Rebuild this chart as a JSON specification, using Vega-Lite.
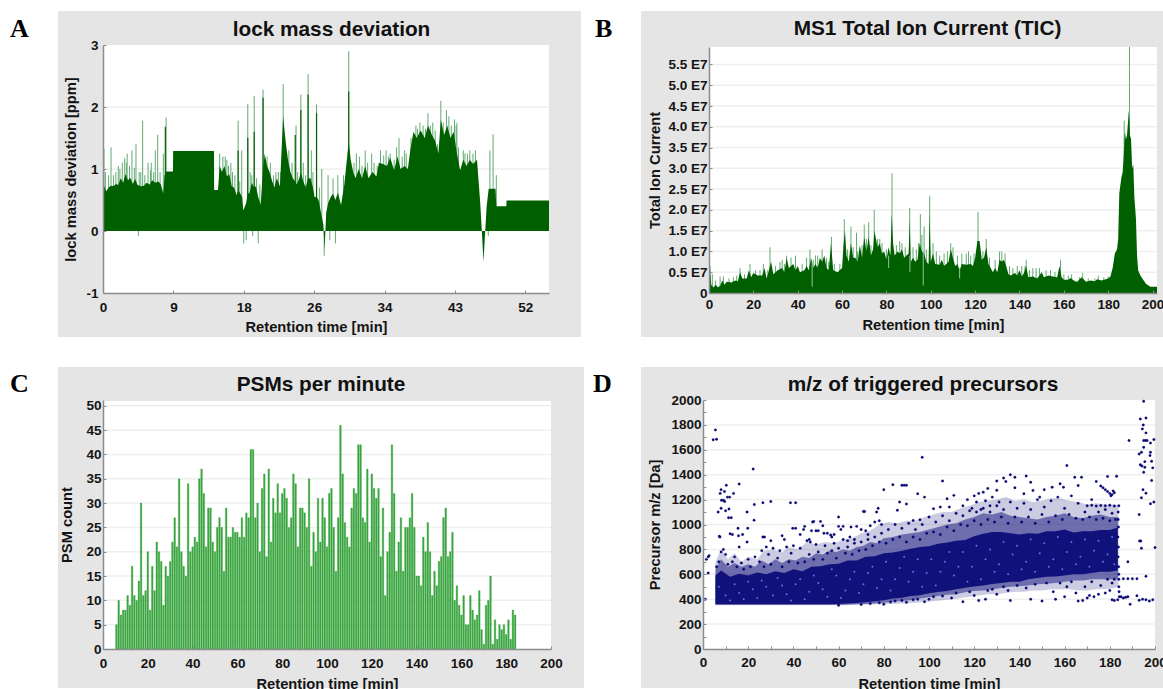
{"$schema":"https://vega.github.io/schema/vega-lite/v6.json","padding":0,"background":"white","bounds":"flush","spacing":355,
"config":{"view":{"stroke":null},"font":"Liberation Sans","axis":{"grid":false,"labelOverlap":false,"tickCount":60,"labelFlush":false,"labelFont":"Liberation Sans","labelFontWeight":"bold","labelFontSize":13.5,"labelColor":"#141414","titleFont":"Liberation Sans","titleFontWeight":"bold","titleFontSize":14.7,"titleColor":"#141414","domainColor":"#8c8c8c","domainWidth":1.5,"tickColor":"#8c8c8c","tickSize":-3,"labelPadding":5},"title":{"font":"Liberation Sans","fontWeight":"bold","fontSize":20.8,"color":"#111111","anchor":"middle"}},
"datasets":{
"one":[{"k":1}],
"lmGrid":[{"v":1},{"v":2}],
"ticGrid":[{"v":0.5},{"v":1},{"v":1.5},{"v":2},{"v":2.5},{"v":3},{"v":3.5},{"v":4},{"v":4.5},{"v":5},{"v":5.5}],
"psmGrid":[{"v":5},{"v":10},{"v":15},{"v":20},{"v":25},{"v":30},{"v":35},{"v":40},{"v":45},{"v":50}],
"mzGrid":[{"v":200},{"v":400},{"v":600},{"v":800},{"v":1000},{"v":1200},{"v":1400},{"v":1600},{"v":1800}],
"lmEnv":[{"t":0,"v":0.8},{"t":0.2,"v":0.7},{"t":0.4,"v":0.64},{"t":0.7,"v":0.7},{"t":1,"v":0.73},{"t":1.3,"v":0.72},{"t":1.6,"v":0.76},{"t":1.9,"v":0.74},{"t":2.2,"v":0.85},{"t":2.5,"v":0.78},{"t":2.8,"v":0.92},{"t":3.1,"v":0.82},{"t":3.4,"v":0.86},{"t":3.7,"v":0.76},{"t":4,"v":0.84},{"t":4.3,"v":0.74},{"t":4.7,"v":0.72},{"t":5.1,"v":0.73},{"t":5.4,"v":0.78},{"t":5.8,"v":0.75},{"t":6.1,"v":0.82},{"t":6.5,"v":0.78},{"t":6.9,"v":0.8},{"t":7.2,"v":0.75},{"t":7.5,"v":0.6},{"t":7.65,"v":0.9},{"t":7.85,"v":0.96},{"t":8.7,"v":0.96},{"t":8.72,"v":1.29},{"t":13.8,"v":1.29},{"t":13.82,"v":0.66},{"t":14.3,"v":0.66},{"t":14.5,"v":1.05},{"t":14.8,"v":0.95},{"t":15.1,"v":1.05},{"t":15.4,"v":0.88},{"t":15.7,"v":0.92},{"t":16,"v":0.72},{"t":16.3,"v":0.7},{"t":16.6,"v":0.58},{"t":16.8,"v":0.65},{"t":17,"v":0.62},{"t":17.3,"v":0.55},{"t":17.45,"v":0.33},{"t":17.8,"v":0.45},{"t":18,"v":0.62},{"t":18.2,"v":0.6},{"t":18.5,"v":0.78},{"t":18.8,"v":0.7},{"t":19,"v":0.72},{"t":19.3,"v":0.55},{"t":19.6,"v":0.42},{"t":19.9,"v":1.0},{"t":20.1,"v":1.25},{"t":20.4,"v":1.05},{"t":20.7,"v":0.95},{"t":21,"v":0.82},{"t":21.3,"v":0.7},{"t":21.6,"v":0.85},{"t":22,"v":0.72},{"t":22.2,"v":1.3},{"t":22.4,"v":1.85},{"t":22.7,"v":1.45},{"t":23,"v":1.15},{"t":23.3,"v":0.95},{"t":23.6,"v":0.85},{"t":23.9,"v":0.8},{"t":24.1,"v":0.75},{"t":24.4,"v":0.85},{"t":24.6,"v":0.95},{"t":24.9,"v":0.8},{"t":25.2,"v":0.7},{"t":25.5,"v":0.85},{"t":25.8,"v":0.85},{"t":26.1,"v":0.7},{"t":26.3,"v":0.55},{"t":26.55,"v":0.55},{"t":26.8,"v":0.5},{"t":27.1,"v":0.3},{"t":27.4,"v":0.1},{"t":27.55,"v":-0.3},{"t":27.75,"v":0.3},{"t":28,"v":0.45},{"t":28.3,"v":0.55},{"t":28.6,"v":0.6},{"t":28.9,"v":0.5},{"t":29.2,"v":0.62},{"t":29.6,"v":0.42},{"t":30,"v":0.75},{"t":30.2,"v":1},{"t":30.55,"v":1.45},{"t":30.8,"v":1.15},{"t":31.1,"v":0.95},{"t":31.4,"v":0.85},{"t":31.8,"v":1},{"t":32.2,"v":0.85},{"t":32.6,"v":1.05},{"t":33,"v":0.85},{"t":33.5,"v":0.95},{"t":34,"v":0.88},{"t":34.3,"v":1.1},{"t":34.8,"v":1.08},{"t":35.3,"v":1.05},{"t":35.7,"v":1.18},{"t":36.2,"v":0.98},{"t":36.6,"v":1.2},{"t":37,"v":1},{"t":37.5,"v":1.05},{"t":37.9,"v":1},{"t":38.2,"v":1.3},{"t":38.6,"v":1.6},{"t":39,"v":1.5},{"t":39.5,"v":1.62},{"t":40,"v":1.5},{"t":40.4,"v":1.7},{"t":40.9,"v":1.55},{"t":41.3,"v":1.45},{"t":41.7,"v":1.25},{"t":42,"v":1.8},{"t":42.4,"v":1.55},{"t":42.8,"v":1.7},{"t":43.2,"v":1.5},{"t":43.6,"v":1.6},{"t":44,"v":1.25},{"t":44.4,"v":0.98},{"t":44.8,"v":1.15},{"t":45.2,"v":1.05},{"t":45.6,"v":1.15},{"t":46,"v":1.08},{"t":46.5,"v":1.15},{"t":46.7,"v":0.8},{"t":46.9,"v":0.45},{"t":47.1,"v":0},{"t":47.3,"v":-0.5},{"t":47.5,"v":-0.05},{"t":47.7,"v":0.4},{"t":47.95,"v":0.68},{"t":48.8,"v":0.68},{"t":48.9,"v":0.4},{"t":50.15,"v":0.4},{"t":50.17,"v":0.49},{"t":55.45,"v":0.49}],
"lmDark":[{"t":7.75,"hi":1.68},{"t":16.8,"hi":1.3},{"t":18,"hi":1.5},{"t":18.8,"hi":1.6},{"t":19.9,"hi":2.15},{"t":23.9,"hi":1.55},{"t":24.6,"hi":1.95},{"t":25.5,"hi":2.2},{"t":26.55,"hi":1.9},{"t":30.55,"hi":2.25}],
"lmSpike":[{"t":0.12,"hi":1.33},{"t":1,"hi":1.35},{"t":1.9,"hi":1.05},{"t":2.4,"hi":1.1},{"t":2.7,"hi":1.17},{"t":3,"hi":1.25},{"t":3.6,"hi":1.3},{"t":4.1,"hi":1.4},{"t":4.5,"hi":0.95},{"t":4.93,"hi":1.78},{"t":5.6,"hi":1.1},{"t":6,"hi":1.1},{"t":6.5,"hi":1.3},{"t":6.8,"hi":1.55},{"t":7.5,"hi":1.25},{"t":7.85,"hi":1.83},{"t":14.5,"hi":1.25},{"t":14.9,"hi":1.2},{"t":15.4,"hi":1.15},{"t":15.9,"hi":1.1},{"t":16.8,"hi":1.78},{"t":17.25,"hi":1.3},{"t":18,"hi":2.05},{"t":18.8,"hi":2.18},{"t":19.9,"hi":2.28},{"t":20.4,"hi":1.2},{"t":22.4,"hi":2.37},{"t":24,"hi":1.7},{"t":24.6,"hi":2.2},{"t":25.5,"hi":2.53},{"t":26.55,"hi":2.04},{"t":27.2,"hi":1},{"t":27.98,"hi":0.9},{"t":28.6,"hi":0.85},{"t":29.2,"hi":0.9},{"t":30.55,"hi":2.9},{"t":31.5,"hi":1.25},{"t":32.6,"hi":1.3},{"t":33.4,"hi":1.25},{"t":34.5,"hi":1.3},{"t":35.2,"hi":1.3},{"t":35.7,"hi":1.25},{"t":36.8,"hi":1.5},{"t":37.7,"hi":1.25},{"t":39.4,"hi":1.75},{"t":40.4,"hi":1.9},{"t":41.3,"hi":1.62},{"t":42,"hi":2.1},{"t":42.7,"hi":1.95},{"t":43.7,"hi":1.8},{"t":44,"hi":1.75},{"t":44.8,"hi":1.3},{"t":45.6,"hi":1.3},{"t":46.3,"hi":1.3},{"t":48.1,"hi":1.3},{"t":48.5,"hi":1.56},{"t":48.9,"hi":0.9},{"t":4.4,"hi":-0.08},{"t":17.5,"hi":-0.2},{"t":17.8,"hi":-0.15},{"t":18.6,"hi":-0.08},{"t":19.3,"hi":-0.2},{"t":27.5,"hi":-0.4},{"t":28.2,"hi":-0.15},{"t":28.9,"hi":-0.2},{"t":47.9,"hi":-0.08},{"t":0.3,"hi":0.95},{"t":0.7,"hi":0.9},{"t":1.3,"hi":0.9},{"t":1.6,"hi":0.95},{"t":2.1,"hi":1},{"t":2.9,"hi":1.1},{"t":3.3,"hi":1.05},{"t":3.9,"hi":1.02},{"t":4.7,"hi":0.95},{"t":5.2,"hi":0.9},{"t":5.9,"hi":0.98},{"t":6.3,"hi":0.95},{"t":7.1,"hi":0.95},{"t":15.2,"hi":1.2},{"t":15.6,"hi":1.05},{"t":16.1,"hi":0.95},{"t":16.4,"hi":0.9},{"t":17,"hi":0.8},{"t":18.3,"hi":0.95},{"t":18.5,"hi":0.9},{"t":19.1,"hi":0.85},{"t":19.5,"hi":0.75},{"t":20.8,"hi":1.1},{"t":21.2,"hi":0.9},{"t":21.5,"hi":0.95},{"t":21.8,"hi":0.95},{"t":22.1,"hi":0.95},{"t":23.1,"hi":1.3},{"t":23.5,"hi":1.1},{"t":24.2,"hi":0.95},{"t":24.9,"hi":1.1},{"t":25.2,"hi":0.9},{"t":25.9,"hi":1.3},{"t":26.1,"hi":0.95},{"t":26.9,"hi":0.7},{"t":29.9,"hi":0.9},{"t":31.2,"hi":1.1},{"t":31.9,"hi":1.2},{"t":32.2,"hi":1.05},{"t":32.9,"hi":1.1},{"t":33.7,"hi":1.1},{"t":34.1,"hi":1.05},{"t":34.9,"hi":1.22},{"t":35.5,"hi":1.2},{"t":36.2,"hi":1.15},{"t":36.5,"hi":1.35},{"t":37.2,"hi":1.2},{"t":37.5,"hi":1.3},{"t":38.3,"hi":1.5},{"t":38.9,"hi":1.7},{"t":39.1,"hi":1.65},{"t":39.8,"hi":1.7},{"t":40.1,"hi":1.65},{"t":40.7,"hi":1.7},{"t":41,"hi":1.75},{"t":41.6,"hi":1.4},{"t":42.3,"hi":1.75},{"t":43,"hi":1.85},{"t":43.3,"hi":1.7},{"t":43.9,"hi":1.7},{"t":44.2,"hi":1.35},{"t":45,"hi":1.25},{"t":45.3,"hi":1.25},{"t":46,"hi":1.25}],
"ticEnv":[{"t":0,"v":0.3},{"t":0.5,"v":0.55},{"t":1,"v":0.2},{"t":2,"v":0.13},{"t":3,"v":0.2},{"t":4,"v":0.14},{"t":5,"v":0.17},{"t":6,"v":0.3},{"t":7,"v":0.2},{"t":8,"v":0.27},{"t":10,"v":0.25},{"t":12,"v":0.3},{"t":13,"v":0.28},{"t":14,"v":0.5},{"t":15,"v":0.35},{"t":17,"v":0.35},{"t":18,"v":0.55},{"t":19,"v":0.38},{"t":20,"v":0.48},{"t":22,"v":0.42},{"t":24,"v":0.42},{"t":25,"v":0.6},{"t":26,"v":0.35},{"t":27,"v":0.55},{"t":28,"v":0.75},{"t":29,"v":0.45},{"t":31,"v":0.55},{"t":33,"v":0.6},{"t":34,"v":0.5},{"t":35,"v":0.85},{"t":36,"v":0.6},{"t":38,"v":0.7},{"t":39,"v":0.55},{"t":40,"v":0.65},{"t":41,"v":0.5},{"t":43,"v":0.55},{"t":44,"v":0.65},{"t":45,"v":0.55},{"t":46,"v":0.85},{"t":47,"v":0.6},{"t":48,"v":0.7},{"t":49,"v":0.6},{"t":50,"v":0.85},{"t":51,"v":0.75},{"t":52,"v":0.9},{"t":53,"v":0.6},{"t":54,"v":0.55},{"t":55,"v":1.2},{"t":56,"v":0.55},{"t":58,"v":0.5},{"t":60,"v":0.6},{"t":60.7,"v":1.2},{"t":61.3,"v":1.5},{"t":62,"v":0.9},{"t":63,"v":0.75},{"t":64,"v":1.2},{"t":65,"v":0.85},{"t":66,"v":0.85},{"t":67,"v":0.75},{"t":68,"v":1.15},{"t":69,"v":0.85},{"t":70,"v":1.35},{"t":71,"v":1},{"t":72,"v":1.35},{"t":73,"v":0.9},{"t":74,"v":1.05},{"t":74.6,"v":1.5},{"t":76,"v":1.1},{"t":77,"v":1.2},{"t":78,"v":0.95},{"t":79,"v":1},{"t":80,"v":0.8},{"t":81,"v":1.1},{"t":81.8,"v":0.9},{"t":82.4,"v":1.9},{"t":83,"v":1.2},{"t":83.7,"v":0.9},{"t":85,"v":1},{"t":86,"v":0.95},{"t":87,"v":1.05},{"t":88,"v":0.85},{"t":89,"v":0.9},{"t":90,"v":0.95},{"t":90.5,"v":1.75},{"t":91,"v":0.75},{"t":92,"v":0.85},{"t":93,"v":0.75},{"t":94,"v":0.8},{"t":95,"v":1.2},{"t":96,"v":1},{"t":97,"v":0.95},{"t":98,"v":0.75},{"t":99,"v":0.7},{"t":99.5,"v":1.9},{"t":100,"v":0.75},{"t":101,"v":0.95},{"t":102,"v":0.7},{"t":104,"v":0.68},{"t":105,"v":0.8},{"t":106,"v":0.65},{"t":108,"v":0.75},{"t":109,"v":1.05},{"t":110,"v":0.85},{"t":111,"v":0.65},{"t":112,"v":0.7},{"t":113,"v":0.55},{"t":114,"v":0.7},{"t":116,"v":0.68},{"t":118,"v":0.7},{"t":119,"v":0.65},{"t":120,"v":0.85},{"t":121,"v":1.25},{"t":122,"v":1.25},{"t":123,"v":0.8},{"t":124,"v":0.85},{"t":125,"v":1.1},{"t":126,"v":0.7},{"t":127,"v":0.6},{"t":128,"v":0.5},{"t":129,"v":0.6},{"t":130,"v":0.5},{"t":131,"v":0.8},{"t":132,"v":0.75},{"t":133,"v":0.8},{"t":134,"v":0.65},{"t":135,"v":0.45},{"t":136,"v":0.42},{"t":138,"v":0.48},{"t":139,"v":0.42},{"t":140,"v":0.55},{"t":141,"v":0.4},{"t":142,"v":0.48},{"t":143,"v":0.65},{"t":144,"v":0.38},{"t":146,"v":0.4},{"t":148,"v":0.35},{"t":150,"v":0.5},{"t":151,"v":0.38},{"t":153,"v":0.42},{"t":155,"v":0.4},{"t":157,"v":0.38},{"t":158,"v":0.65},{"t":159,"v":0.38},{"t":160,"v":0.32},{"t":162,"v":0.32},{"t":163,"v":0.36},{"t":165,"v":0.28},{"t":166,"v":0.27},{"t":168,"v":0.38},{"t":170,"v":0.27},{"t":172,"v":0.3},{"t":174,"v":0.28},{"t":175,"v":0.33},{"t":177,"v":0.3},{"t":180,"v":0.35},{"t":181,"v":0.4},{"t":182,"v":0.6},{"t":183,"v":0.95},{"t":184,"v":1.05},{"t":184.5,"v":1.3},{"t":185,"v":2.4},{"t":186,"v":2.8},{"t":186.5,"v":2.9},{"t":187,"v":3.3},{"t":187.5,"v":3.9},{"t":188,"v":3.7},{"t":188.5,"v":3.8},{"t":189.3,"v":4.4},{"t":189.8,"v":3.8},{"t":190.3,"v":3.7},{"t":190.8,"v":3.0},{"t":191.3,"v":3.1},{"t":191.8,"v":2.3},{"t":192.5,"v":1.8},{"t":193,"v":0.9},{"t":193.5,"v":0.55},{"t":194.5,"v":0.42},{"t":196,"v":0.3},{"t":197,"v":0.22},{"t":199,"v":0.15},{"t":202,"v":0.15}],
"ticSpike":[{"t":0.5,"lo":0,"hi":0.65},{"t":1.5,"lo":0,"hi":0.45},{"t":5,"lo":0,"hi":0.4},{"t":14,"lo":0,"hi":0.6},{"t":18.5,"lo":0,"hi":0.7},{"t":24.5,"lo":0,"hi":0.7},{"t":27.5,"lo":0,"hi":1.1},{"t":30,"lo":0,"hi":0.65},{"t":33,"lo":0,"hi":0.8},{"t":35,"lo":0,"hi":0.9},{"t":39,"lo":0,"hi":0.9},{"t":45.5,"lo":0,"hi":1.05},{"t":48,"lo":0,"hi":0.9},{"t":51,"lo":0,"hi":1.05},{"t":55.2,"lo":0,"hi":1.35},{"t":61,"lo":0,"hi":1.78},{"t":64,"lo":0,"hi":1.6},{"t":66.5,"lo":0,"hi":1.45},{"t":70,"lo":0,"hi":1.65},{"t":72,"lo":0,"hi":1.7},{"t":74.5,"lo":0,"hi":2},{"t":77,"lo":0,"hi":1.3},{"t":82.5,"lo":0,"hi":2.88},{"t":86,"lo":0,"hi":1.25},{"t":90.5,"lo":0,"hi":2.05},{"t":95.3,"lo":0,"hi":1.9},{"t":97,"lo":0,"hi":1.6},{"t":99.5,"lo":0,"hi":2.33},{"t":109,"lo":0,"hi":1.2},{"t":118,"lo":0,"hi":0.9},{"t":121.3,"lo":0,"hi":1.95},{"t":125,"lo":0,"hi":1.3},{"t":131,"lo":0,"hi":1.0},{"t":143,"lo":0,"hi":0.8},{"t":158.5,"lo":0,"hi":0.8},{"t":187.2,"lo":0,"hi":4.15},{"t":189.6,"lo":0,"hi":5.92},{"t":3,"lo":0,"hi":0.3},{"t":6.5,"lo":0,"hi":0.4},{"t":9,"lo":0,"hi":0.35},{"t":11,"lo":0,"hi":0.38},{"t":12.5,"lo":0,"hi":0.42},{"t":16,"lo":0,"hi":0.45},{"t":21,"lo":0,"hi":0.55},{"t":23,"lo":0,"hi":0.55},{"t":26.5,"lo":0,"hi":0.55},{"t":32,"lo":0,"hi":0.75},{"t":34,"lo":0,"hi":0.7},{"t":37,"lo":0,"hi":0.85},{"t":42,"lo":0,"hi":0.7},{"t":44,"lo":0,"hi":0.85},{"t":47,"lo":0,"hi":0.8},{"t":49,"lo":0,"hi":0.9},{"t":53,"lo":0,"hi":0.85},{"t":54,"lo":0,"hi":0.75},{"t":56.5,"lo":0,"hi":0.7},{"t":59,"lo":0,"hi":0.7},{"t":62.5,"lo":0,"hi":1.05},{"t":65,"lo":0,"hi":1.1},{"t":67,"lo":0,"hi":1.0},{"t":69,"lo":0,"hi":1.15},{"t":71,"lo":0,"hi":1.3},{"t":73,"lo":0,"hi":1.15},{"t":76,"lo":0,"hi":1.3},{"t":78,"lo":0,"hi":1.2},{"t":80,"lo":0,"hi":1.05},{"t":84.5,"lo":0,"hi":1.15},{"t":87,"lo":0,"hi":1.2},{"t":88.5,"lo":0,"hi":1.1},{"t":92,"lo":0,"hi":1.1},{"t":93.5,"lo":0,"hi":1.05},{"t":94.5,"lo":0,"hi":1.2},{"t":96,"lo":0,"hi":1.4},{"t":98,"lo":0,"hi":1.05},{"t":101,"lo":0,"hi":1.2},{"t":102.5,"lo":0,"hi":1},{"t":104,"lo":0,"hi":0.9},{"t":106,"lo":0,"hi":0.95},{"t":107.5,"lo":0,"hi":1.0},{"t":110,"lo":0,"hi":1.1},{"t":112,"lo":0,"hi":0.9},{"t":114,"lo":0,"hi":0.95},{"t":116,"lo":0,"hi":0.95},{"t":117,"lo":0,"hi":1},{"t":119.5,"lo":0,"hi":0.95},{"t":123.5,"lo":0,"hi":1.0},{"t":126.5,"lo":0,"hi":0.85},{"t":129,"lo":0,"hi":0.8},{"t":132,"lo":0,"hi":1},{"t":133.5,"lo":0,"hi":0.95},{"t":135.5,"lo":0,"hi":0.65},{"t":137,"lo":0,"hi":0.6},{"t":139,"lo":0,"hi":0.65},{"t":141,"lo":0,"hi":0.65},{"t":142.5,"lo":0,"hi":0.65},{"t":144.5,"lo":0,"hi":0.55},{"t":146,"lo":0,"hi":0.6},{"t":147.5,"lo":0,"hi":0.6},{"t":149,"lo":0,"hi":0.6},{"t":152,"lo":0,"hi":0.55},{"t":154,"lo":0,"hi":0.55},{"t":156,"lo":0,"hi":0.5},{"t":160,"lo":0,"hi":0.45},{"t":162,"lo":0,"hi":0.42},{"t":163.5,"lo":0,"hi":0.45},{"t":167,"lo":0,"hi":0.38},{"t":168.5,"lo":0,"hi":0.48},{"t":171,"lo":0,"hi":0.35},{"t":174,"lo":0,"hi":0.35},{"t":175.5,"lo":0,"hi":0.42},{"t":178,"lo":0,"hi":0.38},{"t":180,"lo":0,"hi":0.4}],
"ticDip":[{"t":46.5,"lo":0.15,"hi":0.75},{"t":90.6,"lo":0.5,"hi":0.9},{"t":96.6,"lo":0.18,"hi":1},{"t":113,"lo":0.35,"hi":0.6},{"t":81,"lo":0.6,"hi":0.9}],
"psm":[{"t":6,"c":5},{"t":7,"c":10},{"t":8,"c":7},{"t":9,"c":8},{"t":10,"c":8},{"t":11,"c":11},{"t":12,"c":9},{"t":13,"c":17},{"t":14,"c":11},{"t":15,"c":10},{"t":16,"c":14},{"t":17,"c":30},{"t":18,"c":11},{"t":19,"c":12},{"t":20,"c":20},{"t":21,"c":8},{"t":22,"c":17},{"t":23,"c":12},{"t":24,"c":22},{"t":25,"c":20},{"t":26,"c":18},{"t":27,"c":9},{"t":28,"c":17},{"t":29,"c":15},{"t":30,"c":18},{"t":31,"c":22},{"t":32,"c":27},{"t":33,"c":21},{"t":34,"c":35},{"t":35,"c":20},{"t":36,"c":17},{"t":37,"c":15},{"t":38,"c":34},{"t":39,"c":20},{"t":40,"c":21},{"t":41,"c":23},{"t":42,"c":22},{"t":43,"c":35},{"t":44,"c":37},{"t":45,"c":32},{"t":46,"c":21},{"t":47,"c":29},{"t":48,"c":29},{"t":49,"c":22},{"t":50,"c":20},{"t":51,"c":25},{"t":52,"c":27},{"t":53,"c":25},{"t":54,"c":16},{"t":55,"c":29},{"t":56,"c":23},{"t":57,"c":23},{"t":58,"c":25},{"t":59,"c":24},{"t":60,"c":24},{"t":61,"c":23},{"t":62,"c":27},{"t":63,"c":23},{"t":64,"c":28},{"t":65,"c":27},{"t":66,"c":41},{"t":67,"c":41},{"t":68,"c":27},{"t":69,"c":30},{"t":70,"c":20},{"t":71,"c":33},{"t":72,"c":36},{"t":73,"c":19},{"t":74,"c":37},{"t":75,"c":22},{"t":76,"c":31},{"t":77,"c":28},{"t":78,"c":34},{"t":79,"c":28},{"t":80,"c":32},{"t":81,"c":33},{"t":82,"c":31},{"t":83,"c":25},{"t":84,"c":27},{"t":85,"c":36},{"t":86,"c":34},{"t":87,"c":21},{"t":88,"c":29},{"t":89,"c":29},{"t":90,"c":28},{"t":91,"c":25},{"t":92,"c":35},{"t":93,"c":17},{"t":94,"c":24},{"t":95,"c":20},{"t":96,"c":31},{"t":97,"c":22},{"t":98,"c":31},{"t":99,"c":27},{"t":100,"c":21},{"t":101,"c":32},{"t":102,"c":33},{"t":103,"c":25},{"t":104,"c":16},{"t":105,"c":27},{"t":106,"c":46},{"t":107,"c":36},{"t":108,"c":26},{"t":109,"c":23},{"t":110,"c":21},{"t":111,"c":29},{"t":112,"c":33},{"t":113,"c":32},{"t":114,"c":42},{"t":115,"c":42},{"t":116,"c":27},{"t":117,"c":26},{"t":118,"c":37},{"t":119,"c":22},{"t":120,"c":36},{"t":121,"c":33},{"t":122,"c":31},{"t":123,"c":33},{"t":124,"c":19},{"t":125,"c":29},{"t":126,"c":11},{"t":127,"c":20},{"t":128,"c":24},{"t":129,"c":42},{"t":130,"c":32},{"t":131,"c":16},{"t":132,"c":22},{"t":133,"c":27},{"t":134,"c":16},{"t":135,"c":25},{"t":136,"c":25},{"t":137,"c":27},{"t":138,"c":32},{"t":139,"c":25},{"t":140,"c":15},{"t":141,"c":15},{"t":142,"c":13},{"t":143,"c":23},{"t":144,"c":20},{"t":145,"c":26},{"t":146,"c":20},{"t":147,"c":11},{"t":148,"c":16},{"t":149,"c":13},{"t":150,"c":18},{"t":151,"c":19},{"t":152,"c":27},{"t":153,"c":29},{"t":154,"c":19},{"t":155,"c":20},{"t":156,"c":24},{"t":157,"c":10},{"t":158,"c":13},{"t":159,"c":9},{"t":160,"c":7},{"t":161,"c":11},{"t":162,"c":5},{"t":163,"c":5},{"t":164,"c":11},{"t":165,"c":8},{"t":166,"c":6},{"t":167,"c":7},{"t":168,"c":12},{"t":169,"c":4},{"t":170,"c":1},{"t":171,"c":9},{"t":172,"c":10},{"t":173,"c":15},{"t":174,"c":1},{"t":175,"c":6},{"t":176,"c":2},{"t":177,"c":5},{"t":178,"c":4},{"t":179,"c":5},{"t":180,"c":3},{"t":181,"c":6},{"t":182,"c":2},{"t":183,"c":8},{"t":184,"c":7}],
"mzOuter":[{"t":5.5,"lo":352,"hi":700},{"t":8,"lo":352,"hi":800},{"t":11,"lo":352,"hi":720},{"t":14,"lo":352,"hi":770},{"t":17,"lo":352,"hi":700},{"t":20,"lo":352,"hi":740},{"t":24,"lo":352,"hi":720},{"t":27,"lo":352,"hi":790},{"t":31,"lo":352,"hi":800},{"t":35,"lo":352,"hi":780},{"t":38,"lo":352,"hi":820},{"t":42,"lo":352,"hi":800},{"t":46,"lo":352,"hi":860},{"t":50,"lo":352,"hi":840},{"t":54,"lo":352,"hi":860},{"t":58,"lo":352,"hi":850},{"t":62,"lo":352,"hi":880},{"t":66,"lo":354,"hi":890},{"t":70,"lo":356,"hi":930},{"t":74,"lo":358,"hi":950},{"t":78,"lo":360,"hi":1000},{"t":82,"lo":362,"hi":1020},{"t":86,"lo":364,"hi":1010},{"t":90,"lo":368,"hi":1030},{"t":94,"lo":372,"hi":1030},{"t":98,"lo":378,"hi":1060},{"t":102,"lo":384,"hi":1080},{"t":106,"lo":392,"hi":1100},{"t":110,"lo":400,"hi":1100},{"t":114,"lo":410,"hi":1130},{"t":118,"lo":420,"hi":1150},{"t":122,"lo":430,"hi":1180},{"t":126,"lo":440,"hi":1190},{"t":130,"lo":440,"hi":1200},{"t":134,"lo":450,"hi":1220},{"t":138,"lo":460,"hi":1190},{"t":142,"lo":460,"hi":1200},{"t":146,"lo":470,"hi":1180},{"t":150,"lo":470,"hi":1190},{"t":154,"lo":480,"hi":1210},{"t":158,"lo":480,"hi":1210},{"t":162,"lo":480,"hi":1190},{"t":166,"lo":470,"hi":1180},{"t":170,"lo":470,"hi":1160},{"t":174,"lo":480,"hi":1170},{"t":178,"lo":480,"hi":1160},{"t":182,"lo":490,"hi":1160},{"t":183.8,"lo":500,"hi":1150}],
"mzFringe":[{"t":5.5,"lo":355,"hi":640},{"t":8,"lo":355,"hi":720},{"t":11,"lo":355,"hi":660},{"t":14,"lo":355,"hi":690},{"t":17,"lo":355,"hi":660},{"t":20,"lo":355,"hi":680},{"t":23,"lo":355,"hi":660},{"t":26,"lo":355,"hi":710},{"t":29,"lo":355,"hi":680},{"t":32,"lo":355,"hi":720},{"t":35,"lo":355,"hi":690},{"t":38,"lo":355,"hi":720},{"t":41,"lo":355,"hi":710},{"t":44,"lo":355,"hi":740},{"t":47,"lo":355,"hi":730},{"t":50,"lo":355,"hi":770},{"t":53,"lo":355,"hi":760},{"t":56,"lo":355,"hi":790},{"t":59,"lo":355,"hi":780},{"t":62,"lo":356,"hi":800},{"t":65,"lo":358,"hi":790},{"t":68,"lo":360,"hi":820},{"t":71,"lo":362,"hi":830},{"t":74,"lo":364,"hi":860},{"t":77,"lo":368,"hi":850},{"t":80,"lo":372,"hi":890},{"t":84,"lo":380,"hi":900},{"t":88,"lo":386,"hi":920},{"t":92,"lo":392,"hi":930},{"t":96,"lo":405,"hi":940},{"t":100,"lo":415,"hi":960},{"t":104,"lo":425,"hi":980},{"t":108,"lo":435,"hi":1000},{"t":112,"lo":440,"hi":1010},{"t":116,"lo":455,"hi":1040},{"t":120,"lo":465,"hi":1060},{"t":124,"lo":470,"hi":1090},{"t":128,"lo":480,"hi":1080},{"t":132,"lo":490,"hi":1100},{"t":136,"lo":500,"hi":1070},{"t":140,"lo":505,"hi":1060},{"t":144,"lo":510,"hi":1050},{"t":148,"lo":520,"hi":1040},{"t":152,"lo":525,"hi":1060},{"t":156,"lo":530,"hi":1070},{"t":160,"lo":540,"hi":1090},{"t":164,"lo":550,"hi":1060},{"t":168,"lo":550,"hi":1050},{"t":172,"lo":560,"hi":1070},{"t":176,"lo":560,"hi":1080},{"t":180,"lo":560,"hi":1060},{"t":183.7,"lo":560,"hi":1060}],
"mzBand":[{"t":5.5,"lo":360,"hi":590},{"t":8,"lo":360,"hi":630},{"t":12,"lo":360,"hi":580},{"t":16,"lo":360,"hi":605},{"t":20,"lo":360,"hi":590},{"t":24,"lo":360,"hi":615},{"t":28,"lo":360,"hi":600},{"t":32,"lo":360,"hi":625},{"t":36,"lo":360,"hi":610},{"t":40,"lo":360,"hi":640},{"t":44,"lo":360,"hi":625},{"t":48,"lo":360,"hi":660},{"t":52,"lo":360,"hi":665},{"t":56,"lo":360,"hi":680},{"t":60,"lo":362,"hi":685},{"t":64,"lo":366,"hi":710},{"t":68,"lo":370,"hi":710},{"t":72,"lo":376,"hi":740},{"t":76,"lo":384,"hi":745},{"t":80,"lo":392,"hi":770},{"t":84,"lo":405,"hi":775},{"t":88,"lo":412,"hi":790},{"t":92,"lo":425,"hi":805},{"t":96,"lo":432,"hi":820},{"t":100,"lo":448,"hi":825},{"t":104,"lo":458,"hi":845},{"t":108,"lo":466,"hi":855},{"t":112,"lo":480,"hi":870},{"t":116,"lo":492,"hi":875},{"t":120,"lo":502,"hi":905},{"t":124,"lo":510,"hi":925},{"t":128,"lo":522,"hi":940},{"t":132,"lo":530,"hi":940},{"t":136,"lo":540,"hi":930},{"t":140,"lo":540,"hi":920},{"t":144,"lo":560,"hi":930},{"t":148,"lo":570,"hi":925},{"t":152,"lo":580,"hi":945},{"t":156,"lo":582,"hi":945},{"t":160,"lo":590,"hi":960},{"t":164,"lo":600,"hi":935},{"t":168,"lo":600,"hi":945},{"t":172,"lo":610,"hi":945},{"t":176,"lo":620,"hi":955},{"t":180,"lo":620,"hi":955},{"t":183.5,"lo":630,"hi":975}],
"mz":[{"t":1,"m":400},{"t":1.5,"m":720},{"t":2.3,"m":740},{"t":2.7,"m":750},{"t":2.3,"m":610},{"t":4.5,"m":1680},{"t":5.5,"m":1760},{"t":6,"m":1685},{"t":6.7,"m":1100},{"t":7.2,"m":905},{"t":7.5,"m":900},{"t":7.6,"m":1250},{"t":8,"m":1280},{"t":8,"m":1130},{"t":8.2,"m":1195},{"t":9,"m":1195},{"t":9.5,"m":1265},{"t":9.6,"m":1185},{"t":10,"m":1110},{"t":10.3,"m":1315},{"t":10.8,"m":1220},{"t":11.3,"m":1055},{"t":11.5,"m":1125},{"t":11.8,"m":1220},{"t":12,"m":925},{"t":12.5,"m":1055},{"t":13,"m":920},{"t":13.5,"m":1250},{"t":16,"m":1325},{"t":15.5,"m":970},{"t":15.7,"m":910},{"t":17.5,"m":920},{"t":19.5,"m":860},{"t":19.5,"m":1100},{"t":19.8,"m":970},{"t":22.2,"m":1445},{"t":22.7,"m":1160},{"t":22.6,"m":1035},{"t":26.5,"m":1175},{"t":26.5,"m":900},{"t":27.2,"m":900},{"t":30,"m":1185},{"t":30,"m":870},{"t":35,"m":910},{"t":36,"m":880},{"t":38.7,"m":1175},{"t":41,"m":1175},{"t":39.7,"m":970},{"t":41,"m":970},{"t":43,"m":920},{"t":44.5,"m":960},{"t":45,"m":985},{"t":47,"m":880},{"t":47.5,"m":860},{"t":48,"m":950},{"t":48.5,"m":1020},{"t":49,"m":1025},{"t":50,"m":950},{"t":51,"m":950},{"t":52,"m":1025},{"t":53,"m":990},{"t":53.5,"m":930},{"t":55,"m":930},{"t":56.5,"m":915},{"t":57,"m":900},{"t":58,"m":920},{"t":60,"m":1060},{"t":60,"m":985},{"t":61,"m":960},{"t":62,"m":985},{"t":64,"m":870},{"t":65,"m":900},{"t":65.5,"m":980},{"t":67,"m":880},{"t":68,"m":985},{"t":70,"m":960},{"t":71,"m":1105},{"t":71.5,"m":1105},{"t":72,"m":950},{"t":73,"m":880},{"t":74,"m":990},{"t":76,"m":1020},{"t":76.8,"m":1100},{"t":77.5,"m":1130},{"t":78,"m":1030},{"t":79,"m":1000},{"t":80,"m":1280},{"t":84,"m":1320},{"t":88,"m":1315},{"t":89,"m":1315},{"t":90,"m":1315},{"t":87,"m":1180},{"t":90,"m":1165},{"t":86,"m":1115},{"t":95,"m":1247},{"t":98,"m":1220},{"t":97,"m":1540},{"t":106,"m":1350},{"t":111,"m":1234},{"t":108,"m":1207},{"t":109,"m":1140},{"t":105,"m":1140},{"t":102,"m":1127},{"t":96,"m":1038},{"t":93,"m":1033},{"t":115,"m":1150},{"t":117,"m":1200},{"t":119,"m":1130},{"t":120,"m":1230},{"t":121,"m":1180},{"t":122,"m":1250},{"t":123,"m":1120},{"t":124,"m":1260},{"t":126,"m":1290},{"t":125,"m":1190},{"t":127,"m":1150},{"t":128,"m":1220},{"t":130,"m":1350},{"t":130,"m":1275},{"t":131,"m":1180},{"t":133,"m":1373},{"t":136,"m":1400},{"t":134,"m":1346},{"t":138,"m":1380},{"t":143,"m":1390},{"t":145,"m":1340},{"t":138,"m":1295},{"t":142,"m":1247},{"t":146,"m":1274},{"t":149,"m":1220},{"t":151,"m":1280},{"t":154.5,"m":1300},{"t":158,"m":1327},{"t":161,"m":1474},{"t":159.5,"m":1300},{"t":164.5,"m":1380},{"t":167.5,"m":1380},{"t":166,"m":1313},{"t":174,"m":1346},{"t":179,"m":1386},{"t":183,"m":1388},{"t":176,"m":1310},{"t":177,"m":1295},{"t":178,"m":1280},{"t":179,"m":1265},{"t":180,"m":1250},{"t":181,"m":1240},{"t":182,"m":1255},{"t":181.5,"m":1270},{"t":180.5,"m":1230},{"t":170,"m":1150},{"t":172,"m":1155},{"t":174,"m":1148},{"t":176,"m":1152},{"t":178,"m":1150},{"t":180,"m":1155},{"t":182,"m":1148},{"t":184,"m":1150},{"t":183.7,"m":1100},{"t":183.7,"m":1040},{"t":183.8,"m":980},{"t":183.6,"m":900},{"t":183.8,"m":820},{"t":183.7,"m":740},{"t":183.9,"m":660},{"t":184,"m":600},{"t":184,"m":560},{"t":184,"m":500},{"t":184.1,"m":460},{"t":184.2,"m":420},{"t":183.5,"m":395},{"t":182,"m":390},{"t":181,"m":395},{"t":185,"m":420},{"t":186,"m":410},{"t":187,"m":415},{"t":188,"m":420},{"t":189,"m":360},{"t":186,"m":565},{"t":188,"m":565},{"t":190,"m":565},{"t":192,"m":565},{"t":188.5,"m":1675},{"t":188,"m":700},{"t":196,"m":585},{"t":193,"m":1080},{"t":193.2,"m":868},{"t":193.7,"m":868},{"t":194,"m":810},{"t":200,"m":815},{"t":198.5,"m":1354},{"t":194,"m":1215},{"t":194.7,"m":1280},{"t":196,"m":1252},{"t":198,"m":1167},{"t":199.5,"m":1180},{"t":195,"m":1990},{"t":193.5,"m":1848},{"t":196,"m":1856},{"t":194.8,"m":1800},{"t":194.4,"m":1768},{"t":196,"m":1736},{"t":195,"m":1675},{"t":195.8,"m":1675},{"t":196.5,"m":1675},{"t":198,"m":1655},{"t":199.5,"m":1682},{"t":195,"m":1620},{"t":194,"m":1580},{"t":193,"m":1567},{"t":198,"m":1580},{"t":197.8,"m":1554},{"t":198.5,"m":1508},{"t":193.5,"m":1480},{"t":194.2,"m":1470},{"t":195.5,"m":1460},{"t":195.5,"m":1505},{"t":195,"m":1420},{"t":199,"m":1455},{"t":192,"m":427},{"t":193,"m":392},{"t":194.5,"m":400},{"t":196,"m":395},{"t":197.5,"m":385},{"t":199,"m":395},
{"t":6,"m":660},{"t":7,"m":700},{"t":8,"m":780},{"t":9,"m":800},{"t":10,"m":760},{"t":11,"m":680},{"t":13,"m":700},{"t":14,"m":740},{"t":15,"m":660},{"t":16,"m":820},{"t":17,"m":690},{"t":18,"m":640},{"t":20,"m":720},{"t":21,"m":660},{"t":23,"m":740},{"t":25,"m":700},{"t":26,"m":790},{"t":27,"m":660},{"t":28,"m":820},{"t":29,"m":760},{"t":30,"m":680},{"t":31,"m":810},{"t":33,"m":730},{"t":34,"m":790},{"t":35,"m":660},{"t":37,"m":820},{"t":38,"m":700},{"t":39,"m":770},{"t":40,"m":830},{"t":42,"m":690},{"t":43,"m":810},{"t":45,"m":700},{"t":46,"m":870},{"t":47,"m":760},{"t":49,"m":720},{"t":50,"m":840},{"t":51,"m":780},{"t":53,"m":720},{"t":54,"m":830},{"t":55,"m":770},{"t":57,"m":790},{"t":58,"m":850},{"t":59,"m":730},{"t":60,"m":810},{"t":62,"m":880},{"t":63,"m":770},{"t":64,"m":820},{"t":66,"m":760},{"t":67,"m":850},{"t":69,"m":790},{"t":70,"m":860},{"t":72,"m":800},{"t":73,"m":920},{"t":75,"m":830},{"t":76,"m":900},{"t":78,"m":860},{"t":79,"m":930},{"t":81,"m":850},{"t":82,"m":960},{"t":84,"m":880},{"t":85,"m":1000},{"t":87,"m":900},{"t":88,"m":970},{"t":90,"m":860},{"t":91,"m":1010},{"t":93,"m":900},{"t":94,"m":960},{"t":96,"m":880},{"t":97,"m":1000},{"t":99,"m":930},{"t":100,"m":1060},{"t":102,"m":940},{"t":103,"m":1020},{"t":105,"m":920},{"t":106,"m":1070},{"t":108,"m":980},{"t":109,"m":1030},{"t":111,"m":950},{"t":112,"m":1090},{"t":114,"m":1000},{"t":115,"m":1070},{"t":117,"m":990},{"t":118,"m":1110},{"t":120,"m":1030},{"t":121,"m":1100},{"t":123,"m":1000},{"t":124,"m":1130},{"t":126,"m":1040},{"t":127,"m":1100},{"t":129,"m":1020},{"t":130,"m":1150},{"t":132,"m":1060},{"t":133,"m":1120},{"t":135,"m":1010},{"t":136,"m":1180},{"t":138,"m":1060},{"t":139,"m":1130},{"t":141,"m":1020},{"t":142,"m":1170},{"t":144,"m":1060},{"t":145,"m":1120},{"t":147,"m":1010},{"t":148,"m":1200},{"t":150,"m":1080},{"t":151,"m":1140},{"t":153,"m":1020},{"t":154,"m":1190},{"t":156,"m":1070},{"t":157,"m":1220},{"t":159,"m":1040},{"t":160,"m":1130},{"t":162,"m":1080},{"t":163,"m":1230},{"t":165,"m":1050},{"t":166,"m":1170},{"t":168,"m":1040},{"t":169,"m":1100},{"t":171,"m":1060},{"t":172,"m":1200},{"t":174,"m":1040},{"t":175,"m":1100},{"t":177,"m":1050},{"t":178,"m":1120},{"t":180,"m":1030},{"t":181,"m":1090},{"t":182.5,"m":1040},
{"t":60,"m":352},{"t":70,"m":358},{"t":74,"m":365},{"t":78,"m":372},{"t":80,"m":360},{"t":83,"m":378},{"t":85,"m":385},{"t":88,"m":390},{"t":90,"m":375},{"t":93,"m":395},{"t":95,"m":400},{"t":98,"m":380},{"t":100,"m":400},{"t":102,"m":420},{"t":106,"m":425},{"t":110,"m":410},{"t":112,"m":450},{"t":115,"m":380},{"t":118,"m":460},{"t":120,"m":430},{"t":122,"m":390},{"t":125,"m":400},{"t":126,"m":470},{"t":128,"m":480},{"t":130,"m":440},{"t":133,"m":500},{"t":135,"m":470},{"t":136,"m":390},{"t":139,"m":510},{"t":143,"m":490},{"t":145,"m":400},{"t":147,"m":520},{"t":150,"m":385},{"t":152,"m":530},{"t":155,"m":460},{"t":156,"m":400},{"t":158,"m":530},{"t":160,"m":420},{"t":161,"m":500},{"t":163,"m":540},{"t":165,"m":450},{"t":166,"m":385},{"t":168,"m":390},{"t":169,"m":500},{"t":170,"m":410},{"t":171,"m":430},{"t":172,"m":540},{"t":173,"m":420},{"t":175,"m":440},{"t":176,"m":510},{"t":178,"m":450},{"t":179,"m":560},{"t":180,"m":470},{"t":181,"m":530},{"t":182,"m":560}],
"mzCore":[{"t":10,"m":430},{"t":14,"m":520},{"t":18,"m":400},{"t":22,"m":480},{"t":26,"m":550},{"t":31,"m":430},{"t":35,"m":510},{"t":39,"m":390},{"t":43,"m":560},{"t":47,"m":460},{"t":51,"m":530},{"t":55,"m":420},{"t":59,"m":590},{"t":63,"m":470},{"t":67,"m":620},{"t":71,"m":520},{"t":75,"m":660},{"t":79,"m":560},{"t":83,"m":470},{"t":87,"m":650},{"t":91,"m":540},{"t":95,"m":720},{"t":99,"m":610},{"t":103,"m":510},{"t":107,"m":700},{"t":111,"m":590},{"t":115,"m":780},{"t":119,"m":660},{"t":123,"m":560},{"t":127,"m":800},{"t":131,"m":680},{"t":135,"m":600},{"t":139,"m":830},{"t":143,"m":700},{"t":147,"m":620},{"t":151,"m":850},{"t":155,"m":720},{"t":159,"m":640},{"t":163,"m":860},{"t":167,"m":740},{"t":171,"m":660},{"t":175,"m":870},{"t":179,"m":760},{"t":182,"m":680},{"t":7,"m":500},{"t":12,"m":390},{"t":16,"m":450},{"t":20,"m":540},{"t":24,"m":410},{"t":28,"m":500},{"t":33,"m":570},{"t":37,"m":440},{"t":41,"m":520},{"t":45,"m":400},{"t":49,"m":590},{"t":53,"m":480},{"t":57,"m":640},{"t":61,"m":410},{"t":65,"m":560},{"t":69,"m":450},{"t":73,"m":610},{"t":77,"m":490},{"t":81,"m":700},{"t":85,"m":560},{"t":89,"m":740},{"t":93,"m":620},{"t":97,"m":500},{"t":101,"m":720},{"t":105,"m":620},{"t":109,"m":780},{"t":113,"m":660},{"t":117,"m":540},{"t":121,"m":830},{"t":125,"m":720},{"t":129,"m":620},{"t":133,"m":860},{"t":137,"m":760},{"t":141,"m":640},{"t":145,"m":880},{"t":149,"m":770},{"t":153,"m":660},{"t":157,"m":900},{"t":161,"m":780},{"t":165,"m":680},{"t":169,"m":880},{"t":173,"m":790},{"t":177,"m":700},{"t":181,"m":900}]
},
"vconcat":[
{"hconcat":[
{"width":446,"height":248,"title":{"text":"lock mass deviation","offset":-41,"dx":5.5},"layer":[
{"data":{"name":"one"},"mark":{"type":"rect","fill":"white","clip":false},"encoding":{"x":{"value":-103},"x2":{"value":1060},"y":{"value":-45},"y2":{"value":644}}},
{"data":{"name":"one"},"mark":{"type":"rect","fill":"#e5e5e5"},"encoding":{"x":{"value":-45},"x2":{"value":478},"y":{"value":-34},"y2":{"value":292}}},
{"data":{"name":"one"},"mark":{"type":"rect","fill":"white"},"encoding":{"x":{"value":0},"x2":{"value":446},"y":{"value":0},"y2":{"value":248}}},
{"data":{"name":"one"},"mark":{"type":"text","text":"A","font":"Liberation Serif","fontWeight":"bold","fontSize":26,"align":"left","baseline":"alphabetic","color":"black"},"encoding":{"x":{"value":-93},"y":{"value":-8}}},
{"data":{"name":"lmGrid"},"mark":{"type":"rule","color":"#efefef","strokeWidth":1.5},"encoding":{"y":{"field":"v","type":"quantitative"}}},
{"data":{"name":"lmSpike"},"mark":{"type":"rule","color":"#62ab72","strokeWidth":1},"encoding":{"x":{"field":"t","type":"quantitative"},"y":{"field":"hi","type":"quantitative"},"y2":{"datum":0}}},
{"data":{"name":"lmEnv"},"mark":{"type":"area","color":"#006000"},"encoding":{"x":{"field":"t","type":"quantitative","scale":{"domain":[0,55.45],"nice":false},"axis":{"zindex":1,"tickCount":60,"title":"Retention time [min]","titleX":213,"values":[0,8.75,17.5,26.25,35,43.75,52.5],"labelExpr":"['0','9','18','26','34','43','52'][round(datum.value/8.75)]","labelPadding":10,"titlePadding":6}},"y":{"field":"v","type":"quantitative","scale":{"domain":[-1,3],"nice":false},"axis":{"zindex":1,"tickCount":60,"title":"lock mass deviation [ppm]","values":[-1,0,1,2,3],"labelExpr":"toString(datum.value)","labelPadding":8,"titlePadding":7}},"y2":{"datum":0}}},
{"data":{"name":"lmDark"},"mark":{"type":"rule","color":"#006000","strokeWidth":1.2},"encoding":{"x":{"field":"t","type":"quantitative"},"y":{"field":"hi","type":"quantitative"},"y2":{"datum":0}}}
]},
{"bounds":"flush","spacing":0,"vconcat":[
{"width":448,"height":2,"data":{"name":"one"},"mark":{"type":"rect","opacity":0},"encoding":{}},
{"width":448,"height":246,"title":{"text":"MS1 Total Ion Current (TIC)","offset":-29,"dx":-5.5},"layer":[
{"data":{"name":"one"},"mark":{"type":"rect","fill":"#e5e5e5"},"encoding":{"x":{"value":-68},"x2":{"value":454},"y":{"value":-36},"y2":{"value":290}}},
{"data":{"name":"one"},"mark":{"type":"rect","fill":"white"},"encoding":{"x":{"value":0},"x2":{"value":448},"y":{"value":0},"y2":{"value":246}}},
{"data":{"name":"one"},"mark":{"type":"text","text":"B","font":"Liberation Serif","fontWeight":"bold","fontSize":26,"align":"left","baseline":"alphabetic","color":"black"},"encoding":{"x":{"value":-114},"y":{"value":-10}}},
{"data":{"name":"ticGrid"},"mark":{"type":"rule","color":"#efefef","strokeWidth":1.5},"encoding":{"y":{"field":"v","type":"quantitative"}}},
{"data":{"name":"ticSpike"},"mark":{"type":"rule","color":"#62ab72","strokeWidth":1},"encoding":{"x":{"field":"t","type":"quantitative"},"y":{"field":"hi","type":"quantitative"},"y2":{"field":"lo"}}},
{"data":{"name":"ticEnv"},"mark":{"type":"area","color":"#006000"},"encoding":{"x":{"field":"t","type":"quantitative","scale":{"domain":[0,202],"nice":false},"axis":{"zindex":1,"tickCount":60,"title":"Retention time [min]","values":[0,20,40,60,80,100,120,140,160,180,200],"labelPadding":7,"titlePadding":7}},"y":{"field":"v","type":"quantitative","scale":{"domain":[0,5.92],"nice":false},"axis":{"zindex":1,"tickCount":60,"title":"Total Ion Current","values":[0,0.5,1,1.5,2,2.5,3,3.5,4,4.5,5,5.5],"labelExpr":"datum.value==0?'0':format(datum.value,'.1f')+' E7'","titlePadding":5}},"y2":{"datum":0}}},
{"data":{"name":"ticDip"},"mark":{"type":"rule","color":"#8fc49b","strokeWidth":1},"encoding":{"x":{"field":"t","type":"quantitative"},"y":{"field":"hi","type":"quantitative"},"y2":{"field":"lo"}}}
]}
]}
],"spacing":160,"bounds":"flush"},
{"hconcat":[
{"width":448,"height":249,"title":{"text":"PSMs per minute","offset":-29,"dx":-6},"layer":[
{"data":{"name":"one"},"mark":{"type":"rect","fill":"#e5e5e5"},"encoding":{"x":{"value":-45},"x2":{"value":481},"y":{"value":-33},"y2":{"value":288}}},
{"data":{"name":"one"},"mark":{"type":"rect","fill":"white"},"encoding":{"x":{"value":0},"x2":{"value":448},"y":{"value":1},"y2":{"value":249}}},
{"data":{"name":"one"},"mark":{"type":"text","text":"C","font":"Liberation Serif","fontWeight":"bold","fontSize":26,"align":"left","baseline":"alphabetic","color":"black"},"encoding":{"x":{"value":-93},"y":{"value":-8}}},
{"data":{"name":"psmGrid"},"mark":{"type":"rule","color":"#efefef","strokeWidth":1.5},"encoding":{"y":{"field":"v","type":"quantitative"}}},
{"data":{"name":"psm"},"mark":{"type":"bar","color":"#3fa547","stroke":"#22a022","strokeWidth":0.3,"width":1.6},"encoding":{"x":{"field":"t","type":"quantitative","scale":{"domain":[0,200],"nice":false,"padding":0},"axis":{"zindex":1,"tickCount":60,"title":"Retention time [min]","values":[0,20,40,60,80,100,120,140,160,180,200],"labelPadding":10,"titlePadding":7}},"y":{"field":"c","type":"quantitative","scale":{"domain":[0,51.2],"nice":false},"axis":{"zindex":1,"tickCount":60,"title":"PSM count","values":[0,5,10,15,20,25,30,35,40,45,50],"titlePadding":11}}}}
]},
{"width":452,"height":249,"title":{"text":"m/z of triggered precursors","offset":-29,"dx":-6},"layer":[
{"data":{"name":"one"},"mark":{"type":"rect","fill":"#e5e5e5"},"encoding":{"x":{"value":-62},"x2":{"value":460},"y":{"value":-33},"y2":{"value":288}}},
{"data":{"name":"one"},"mark":{"type":"rect","fill":"white"},"encoding":{"x":{"value":0},"x2":{"value":452},"y":{"value":0},"y2":{"value":249}}},
{"data":{"name":"one"},"mark":{"type":"text","text":"D","font":"Liberation Serif","fontWeight":"bold","fontSize":26,"align":"left","baseline":"alphabetic","color":"black"},"encoding":{"x":{"value":-110},"y":{"value":-8}}},
{"data":{"name":"mzGrid"},"mark":{"type":"rule","color":"#efefef","strokeWidth":1.5},"encoding":{"y":{"field":"v","type":"quantitative"}}},
{"data":{"name":"mzOuter"},"mark":{"type":"area","color":"#11117c","opacity":0.22},"encoding":{"x":{"field":"t","type":"quantitative"},"y":{"field":"lo","type":"quantitative"},"y2":{"field":"hi"}}},
{"data":{"name":"mzFringe"},"mark":{"type":"area","color":"#11117c","opacity":0.5},"encoding":{"x":{"field":"t","type":"quantitative"},"y":{"field":"lo","type":"quantitative"},"y2":{"field":"hi"}}},
{"data":{"name":"mzBand"},"mark":{"type":"area","color":"#11117c"},"encoding":{"x":{"field":"t","type":"quantitative","scale":{"domain":[0,200],"nice":false},"axis":{"zindex":1,"tickCount":60,"title":"Retention time [min]","values":[0,10,20,30,40,50,60,70,80,90,100,110,120,130,140,150,160,170,180,190,200],"labelExpr":"datum.value%20==0?datum.label:''","labelPadding":9,"titlePadding":8}},"y":{"field":"lo","type":"quantitative","scale":{"domain":[0,2000],"nice":false},"axis":{"zindex":1,"tickCount":60,"title":"Precursor m/z [Da]","values":[0,100,200,300,400,500,600,700,800,900,1000,1100,1200,1300,1400,1500,1600,1700,1800,1900,2000],"labelExpr":"datum.value%200==0?datum.label:''","titlePadding":8,"format":"d"}},"y2":{"field":"hi"}}},
{"data":{"name":"mzCore"},"mark":{"type":"point","filled":true,"shape":"circle","size":4,"color":"#6a6ae8","opacity":1},"encoding":{"x":{"field":"t","type":"quantitative"},"y":{"field":"m","type":"quantitative"}}},
{"data":{"name":"mz"},"mark":{"type":"point","filled":true,"shape":"circle","size":6,"color":"#0a0a8c","stroke":"#000040","strokeWidth":0.3,"opacity":1,"clip":false},"encoding":{"x":{"field":"t","type":"quantitative"},"y":{"field":"m","type":"quantitative"}}}
]}
],"spacing":152,"bounds":"flush"}
]}
